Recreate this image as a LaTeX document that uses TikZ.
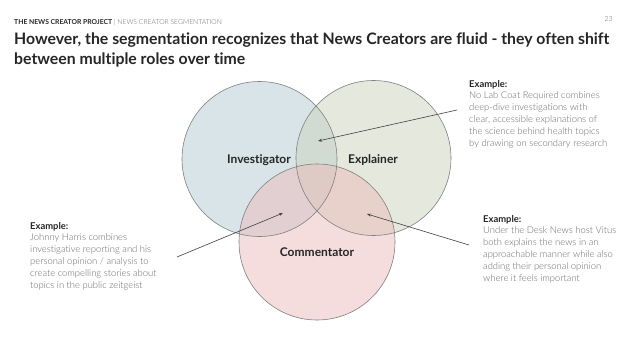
\documentclass[tikz,border=0pt]{standalone}
\usepackage{fontspec}
\setmainfont{Lato}[Ligatures=NoCommon]
\newfontfamily\latolight{Lato Light}[Ligatures=NoCommon]
\usetikzlibrary{arrows.meta}
\definecolor{inv}{HTML}{B5CBD3}
\definecolor{exl}{HTML}{CDD3BB}
\definecolor{com}{HTML}{ECBCBC}
\definecolor{dark}{HTML}{262626}
\definecolor{graytxt}{HTML}{6A6A6A}
\tikzset{
  venn/.style={fill opacity=0.5},
  vring/.style={draw=black!50, line width=0.6pt},
  vlabel/.style={font=\fontsize{12}{14}\selectfont\bfseries, text=dark, inner sep=0pt},
  example/.style={align=left, anchor=north west, inner sep=0pt, text=graytxt,
     font=\latolight\fontsize{9.4}{11.8}\selectfont},
  pointer/.style={draw=black!75, line width=0.6pt, -{Stealth[length=4pt,width=3pt]}}
}
\newcommand{\exhead}{{\normalfont\bfseries\color{dark}Example:}}
\begin{document}
\begin{tikzpicture}[x=1pt,y=-1pt]
\useasboundingbox[fill=white] (0,0) rectangle (630,340);
% header
\node[anchor=base west, inner sep=0pt, font=\fontsize{6.8}{8}\selectfont] (hdr) at (14,24)
  {\textbf{\color{dark}THE NEWS CREATOR PROJECT} {\color{graytxt}\latolight | NEWS CREATOR SEGMENTATION}};
\node[anchor=base east, inner sep=0pt, font=\latolight\fontsize{7}{8}\selectfont, text=graytxt] (pg) at (613,21) {23};
\node[anchor=north west, align=left, inner sep=0pt, text=dark,
  font=\fontsize{15.8}{19.5}\selectfont\bfseries] (title) at (14,33)
  {However, the segmentation recognizes that News Creators are fluid - they often shift\\between multiple roles over time};
% circles
\fill[venn, fill=inv] (259.5,159) circle (77.5);
\fill[venn, fill=exl] (373.5,158) circle (77.5);
\fill[venn, fill=com] (317,242) circle (78);
\draw[vring] (259.5,159) circle (77.5);
\draw[vring] (373.5,158) circle (77.5);
\draw[vring] (317,242) circle (78);
\node[vlabel] (inv) at (259,160) {Investigator};
\node[vlabel] (exl) at (373,160) {Explainer};
\node[vlabel] (com) at (317,252) {Commentator};
% examples
\node[example] (ex1) at (469,80) {\exhead\\No Lab Coat Required combines\\deep-dive investigations with\\clear, accessible explanations of\\the science behind health topics\\by drawing on secondary research};
\node[example] (ex2) at (30,222) {\exhead\\Johnny Harris combines\\investigative reporting and his\\personal opinion / analysis to\\create compelling stories about\\topics in the public zeitgeist};
\node[example] (ex3) at (483,215) {\exhead\\Under the Desk News host Vitus\\both explains the news in an\\approachable manner while also\\adding their personal opinion\\where it feels important};
% pointers
\coordinate (t1) at (318,141);
\coordinate (t2) at (283,213);
\coordinate (t3) at (367,214);
\coordinate (s1) at (457,110);
\coordinate (s2) at (177,257);
\coordinate (s3) at (469,245);
\draw[pointer] (s1) -- (t1);
\draw[pointer] (s2) -- (t2);
\draw[pointer] (s3) -- (t3);
\end{tikzpicture}
\end{document}
